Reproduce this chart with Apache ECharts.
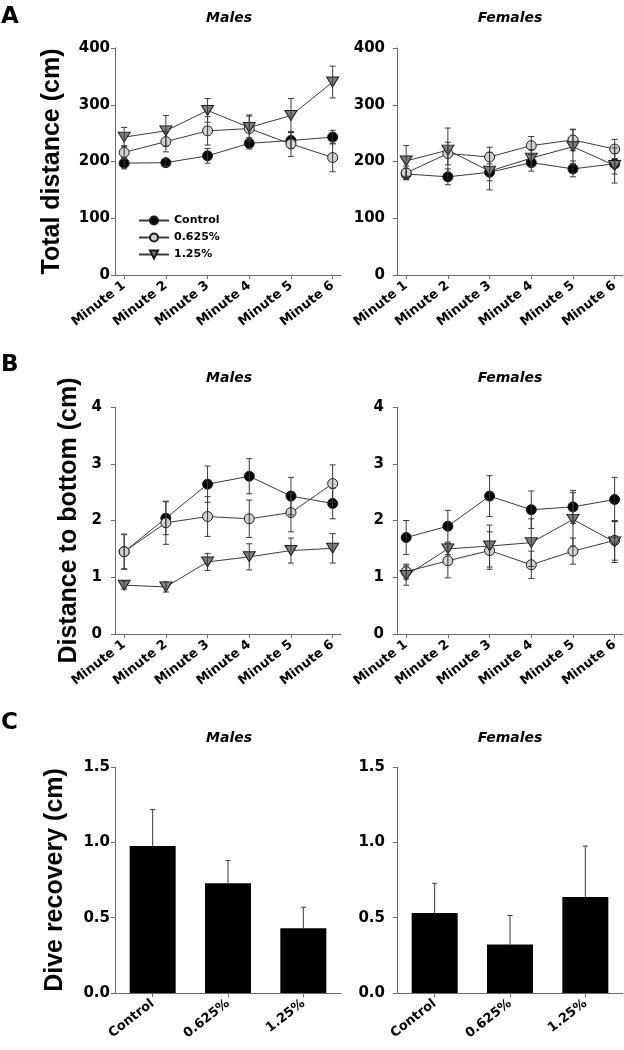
<!DOCTYPE html>
<html>
<head>
<meta charset="utf-8">
<script src="https://cdn.jsdelivr.net/npm/echarts@6/dist/echarts.min.js"></script>
<style>html,body{margin:0;padding:0;background:#fff}#c{width:624px;height:1050px}</style>
</head>
<body>
<div id="c"></div>
<script>
// ---- data ----
const minutes = ['Minute 1', 'Minute 2', 'Minute 3', 'Minute 4', 'Minute 5', 'Minute 6'];
const groups = ['Control', '0.625%', '1.25%'];
const distTicks = [0, 100, 200, 300, 400];
const depthTicks = [0, 1, 2, 3, 4];
const diveTicks = ['0.0', '0.5', '1.0', '1.5'];

// Panel A: total distance (cm), mean and SEM
const distMaleControl = [197, 198, 210, 232, 237, 243];
const distMaleControlErr = [10, 7, 13, 10, 14, 12];
const distMaleLow = [216, 235, 254, 258, 231, 207];
const distMaleLowErr = [12, 18, 25, 22, 22, 25];
const distMaleHigh = [243, 254, 290, 260, 281, 340];
const distMaleHighErr = [17, 27, 21, 22, 30, 28];

const distFemaleControl = [178, 173, 181, 198, 187, 196];
const distFemaleControlErr = [10, 14, 15, 15, 14, 18];
const distFemaleLow = [180, 214, 208, 228, 238, 222];
const distFemaleLowErr = [12, 20, 17, 16, 19, 17];
const distFemaleHigh = [201, 220, 183, 206, 226, 193];
const distFemaleHighErr = [27, 39, 33, 15, 30, 31];

// Panel B: distance to bottom (cm)
const depthMaleControl = [1.45, 2.04, 2.64, 2.78, 2.43, 2.30];
const depthMaleControlErr = [0.31, 0.29, 0.32, 0.31, 0.33, 0.27];
const depthMaleLow = [1.45, 1.96, 2.07, 2.03, 2.14, 2.65];
const depthMaleLowErr = [0.30, 0.38, 0.35, 0.33, 0.34, 0.33];
const depthMaleHigh = [0.86, 0.83, 1.27, 1.36, 1.47, 1.51];
const depthMaleHighErr = [0.07, 0.09, 0.15, 0.23, 0.22, 0.26];

const depthFemaleControl = [1.70, 1.90, 2.43, 2.19, 2.24, 2.37];
const depthFemaleControlErr = [0.30, 0.28, 0.36, 0.33, 0.29, 0.39];
const depthFemaleLow = [1.10, 1.29, 1.47, 1.22, 1.46, 1.65];
const depthFemaleLowErr = [0.13, 0.30, 0.33, 0.24, 0.23, 0.35];
const depthFemaleHigh = [1.03, 1.50, 1.55, 1.61, 2.02, 1.62];
const depthFemaleHighErr = [0.17, 0.10, 0.37, 0.42, 0.47, 0.36];

// Panel C: dive recovery (cm)
const diveMale = [0.975, 0.728, 0.43];
const diveMaleErr = [0.243, 0.152, 0.139];
const diveFemale = [0.531, 0.322, 0.637];
const diveFemaleErr = [0.197, 0.192, 0.338];

// ---- styles ----
const AXIS = '#6b6b6b';
const LINE = '#3a3a3a';
const FONT = 'DejaVu Sans';
const styles = [
  { color: '#000000', symbol: 'circle', size: 10, rotate: 0 },
  { color: '#d0d0d0', symbol: 'circle', size: 10, rotate: 0 },
  { color: '#7f7f7f', symbol: 'triangle', size: [12, 10], rotate: 180 }
];

const grids = [
  { left: 115, top: 48, width: 226, height: 227 },
  { left: 397, top: 48, width: 226, height: 227 },
  { left: 115, top: 407, width: 226, height: 227 },
  { left: 397, top: 407, width: 226, height: 227 },
  { left: 115, top: 767, width: 226, height: 226 },
  { left: 397, top: 767, width: 226, height: 226 }
];

const xAxes = [], yAxes = [], series = [];
const positions = minutes.map((m, i) => i + 1);

function lineX(gi) {
  return {
    type: 'value', gridIndex: gi, min: 0.78, max: 6.2,
    splitLine: { show: false },
    axisLine: { show: true, onZero: false, lineStyle: { color: AXIS, width: 1 } },
    axisTick: { show: true, customValues: positions, length: 4, lineStyle: { color: AXIS } },
    axisLabel: {
      customValues: positions, formatter: v => minutes[Math.round(v) - 1],
      rotate: 38, margin: 9, color: '#000', fontFamily: FONT, fontWeight: 'bold', fontSize: 13
    }
  };
}
function yAx(gi, max, interval, name, gap, margin, fmt) {
  return {
    type: 'value', gridIndex: gi, min: 0, max: max, interval: interval,
    name: name, nameLocation: 'middle', nameGap: gap,
    nameTextStyle: { fontFamily: 'Liberation Sans', fontWeight: 'bold', fontSize: 25, color: '#000' },
    splitLine: { show: false },
    axisLine: { show: true, lineStyle: { color: AXIS, width: 1 } },
    axisTick: { show: true, length: 4, lineStyle: { color: AXIS } },
    axisLabel: { margin: margin, color: '#000', fontFamily: FONT, fontWeight: 'bold', fontSize: 15, formatter: fmt }
  };
}

function errRender(capHalf, onlyUp) {
  return function (params, api) {
    const x = api.value(0), lo = api.value(1), hi = api.value(2);
    const pLo = api.coord([x, lo]), pHi = api.coord([x, hi]);
    const st = { stroke: LINE, lineWidth: 1 };
    const ch = [
      { type: 'line', shape: { x1: pLo[0], y1: pLo[1], x2: pHi[0], y2: pHi[1] }, style: st },
      { type: 'line', shape: { x1: pHi[0] - capHalf, y1: pHi[1], x2: pHi[0] + capHalf, y2: pHi[1] }, style: st }
    ];
    if (!onlyUp) ch.push({ type: 'line', shape: { x1: pLo[0] - capHalf, y1: pLo[1], x2: pLo[0] + capHalf, y2: pLo[1] }, style: st });
    return { type: 'group', children: ch };
  };
}

function addLinePanel(gi, sets) {
  sets.forEach((s, k) => {
    const st = styles[k];
    series.push({
      type: 'line', name: groups[k], xAxisIndex: gi, yAxisIndex: gi,
      data: s[0].map((v, i) => [positions[i], v]),
      symbol: st.symbol, symbolSize: st.size, symbolRotate: st.rotate,
      lineStyle: { color: LINE, width: 1 },
      itemStyle: { color: st.color, borderColor: '#1a1a1a', borderWidth: 1 },
      z: 3
    });
  });
  sets.forEach((s, k) => {
    series.push({
      type: 'custom', name: 'err', xAxisIndex: gi, yAxisIndex: gi,
      renderItem: errRender(3, false),
      encode: { x: 0, y: [1, 2] },
      data: s[0].map((v, i) => [positions[i], v - s[1][i], v + s[1][i]]),
      z: 4
    });
  });
}

function addBarPanel(gi, vals, errs) {
  series.push({
    type: 'bar', name: 'bar' + gi, xAxisIndex: gi, yAxisIndex: gi, data: vals,
    barWidth: 46, itemStyle: { color: '#000' }
  });
  series.push({
    type: 'custom', name: 'err', xAxisIndex: gi, yAxisIndex: gi,
    renderItem: errRender(2.5, true), encode: { x: 0, y: [1, 2] },
    data: vals.map((v, i) => [i, v, v + errs[i]]), z: 4
  });
}

// Panel A
xAxes.push(lineX(0), lineX(1));
yAxes.push(yAx(0, 400, 100, 'Total distance (cm)', 50, 5),
           yAx(1, 400, 100, '', 0, 12));
addLinePanel(0, [[distMaleControl, distMaleControlErr], [distMaleLow, distMaleLowErr], [distMaleHigh, distMaleHighErr]]);
addLinePanel(1, [[distFemaleControl, distFemaleControlErr], [distFemaleLow, distFemaleLowErr], [distFemaleHigh, distFemaleHighErr]]);
// Panel B
xAxes.push(lineX(2), lineX(3));
yAxes.push(yAx(2, 4, 1, 'Distance to bottom (cm)', 33, 13),
           yAx(3, 4, 1, '', 0, 13));
addLinePanel(2, [[depthMaleControl, depthMaleControlErr], [depthMaleLow, depthMaleLowErr], [depthMaleHigh, depthMaleHighErr]]);
addLinePanel(3, [[depthFemaleControl, depthFemaleControlErr], [depthFemaleLow, depthFemaleLowErr], [depthFemaleHigh, depthFemaleHighErr]]);
// Panel C
[4, 5].forEach(gi => xAxes.push({
  type: 'category', gridIndex: gi, data: groups,
  axisLine: { show: true, lineStyle: { color: AXIS, width: 1 } },
  axisTick: { show: true, alignWithLabel: true, length: 4, lineStyle: { color: AXIS } },
  axisLabel: { rotate: 38, margin: 9, color: '#000', fontFamily: FONT, fontWeight: 'bold', fontSize: 13 }
}));
const fmt1 = v => v.toFixed(1);
yAxes.push(yAx(4, 1.5, 0.5, 'Dive recovery (cm)', 47, 5, fmt1),
           yAx(5, 1.5, 0.5, '', 0, 12, fmt1));
addBarPanel(4, diveMale, diveMaleErr);
addBarPanel(5, diveFemale, diveFemaleErr);

function txt(x, y, t, size, italic, align) {
  return { type: 'text', x: x, y: y, style: {
    text: t, fill: '#000', font: (italic ? 'italic ' : '') + 'bold ' + size + 'px "' + FONT + '"',
    textAlign: align || 'center', textVerticalAlign: 'middle' } };
}

const chart = echarts.init(document.getElementById('c'), null, { renderer: 'canvas' });
chart.setOption({
  animation: false,
  backgroundColor: '#fff',
  grid: grids,
  xAxis: xAxes,
  yAxis: yAxes,
  legend: {
    data: groups, orient: 'vertical', left: 133, top: 210,
    itemWidth: 30, itemHeight: 10, itemGap: 6,
    textStyle: { fontFamily: FONT, fontWeight: 'bold', fontSize: 11, color: '#000' },
    selectedMode: false
  },
  graphic: [
    txt(1, 17, 'A', 23, false, 'left'),
    txt(1, 365, 'B', 23, false, 'left'),
    txt(1, 723, 'C', 23, false, 'left'),
    txt(229, 18, 'Males', 14, true), txt(510, 18, 'Females', 14, true),
    txt(229, 378, 'Males', 14, true), txt(510, 378, 'Females', 14, true),
    txt(229, 738, 'Males', 14, true), txt(510, 738, 'Females', 14, true)
  ],
  series: series
});
</script>
</body>
</html>
